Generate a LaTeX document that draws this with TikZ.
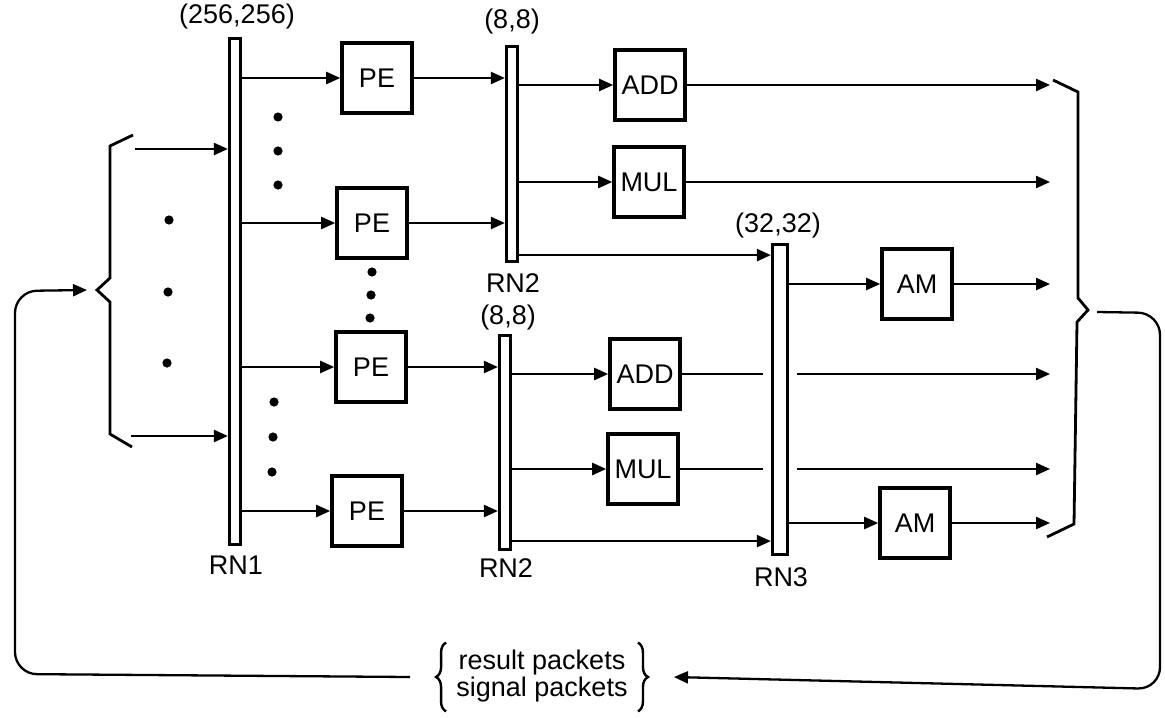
\documentclass[tikz,border=0pt]{standalone}
\usepackage{fontspec}
\setmainfont{Liberation Sans}
\usetikzlibrary{arrows.meta,decorations.pathreplacing}
\begin{document}
\begin{tikzpicture}[x=0.5pt,y=-0.5pt,
  font=\fontsize{13.5}{14}\selectfont,
  box/.style={draw, line width=1.8pt, minimum width=35pt, minimum height=35pt, inner sep=0pt},
  bar/.style={draw, line width=1.6pt, fill=white, inner sep=0pt, minimum width=5.5pt},
  wire/.style={line width=1.15pt},
  arr/.style={wire, -{Triangle[length=7pt,width=6pt]}},
  dot/.style={fill, circle, inner sep=0pt, minimum size=4.6pt},
  lbl/.style={inner sep=0pt},
  brace/.style={line width=1.4pt, line join=miter},
  cbrace/.style={line width=1.2pt, decorate, decoration={brace, amplitude=5pt}},
]
\useasboundingbox (0,0) rectangle (1165,717);

% bars
\node[bar, minimum height=253pt] (RN1) at (235,291.5) {};
\node[bar, minimum height=107.5pt] (RN2a) at (512,154) {};
\node[bar, minimum height=107pt] (RN2b) at (505,442.5) {};
\node[bar, minimum width=7.5pt, minimum height=155pt] (RN3) at (780,399.5) {};

% bar labels
\node[lbl] (t1) at (237,17) {(256,256)};
\node[lbl] (t2) at (512,22) {(8,8)};
\node[lbl] (t3) at (508,318) {(8,8)};
\node[lbl] (t4) at (778,226) {(32,32)};
\node[lbl] (b1) at (236,565) {RN1};
\node[lbl] (b2) at (513,283) {RN2};
\node[lbl] (b3) at (506,568) {RN2};
\node[lbl] (b4) at (781,577) {RN3};

% boxes
\node[box] (PE1) at (377,78) {PE};
\node[box] (PE2) at (372,223) {PE};
\node[box] (PE3) at (371,367) {PE};
\node[box] (PE4) at (367,511) {PE};
\node[box] (ADD1) at (650,85) {ADD};
\node[box] (MUL1) at (649,182) {MUL};
\node[box] (ADD2) at (645,374) {ADD};
\node[box] (MUL2) at (643,469) {MUL};
\node[box] (AM1) at (917,284) {AM};
\node[box] (AM2) at (915,523) {AM};

% dots
\node[dot] (d1) at (278,117) {};
\node[dot] (d2) at (278,151) {};
\node[dot] (d3) at (278,185) {};
\node[dot] (d4) at (372,272) {};
\node[dot] (d5) at (371,295) {};
\node[dot] (d6) at (370,318) {};
\node[dot] (d7) at (274,402) {};
\node[dot] (d8) at (273,437) {};
\node[dot] (d9) at (272,472) {};
\node[dot] (d10) at (169,220) {};
\node[dot] (d11) at (168,292) {};
\node[dot] (d12) at (167,363) {};

% inputs to RN1
\coordinate (i1) at (135,149);
\coordinate (i2) at (131,436);
\draw[arr] (i1) -- (RN1.west |- i1);
\draw[arr] (i2) -- (RN1.west |- i2);

% RN1 -> PE
\foreach \p in {PE1,PE2,PE3,PE4}
  \draw[arr] (RN1.east |- \p.west) -- (\p.west);

% PE -> RN2
\draw[arr] (PE1.east) -- (RN2a.west |- PE1.east);
\draw[arr] (PE2.east) -- (RN2a.west |- PE2.east);
\draw[arr] (PE3.east) -- (RN2b.west |- PE3.east);
\draw[arr] (PE4.east) -- (RN2b.west |- PE4.east);

% RN2 -> units
\draw[arr] (RN2a.east |- ADD1.west) -- (ADD1.west);
\draw[arr] (RN2a.east |- MUL1.west) -- (MUL1.west);
\draw[arr] (RN2b.east |- ADD2.west) -- (ADD2.west);
\draw[arr] (RN2b.east |- MUL2.west) -- (MUL2.west);
\coordinate (c1) at ([yshift=4pt]RN2a.south east);
\coordinate (c2) at ([yshift=5pt]RN2b.south east);
\draw[arr] (c1) -- (RN3.west |- c1);
\draw[arr] (c2) -- (RN3.west |- c2);

% RN3 -> AM
\draw[arr] (RN3.east |- AM1.west) -- (AM1.west);
\draw[arr] (RN3.east |- AM2.west) -- (AM2.west);

% outputs
\coordinate (R) at (1050,0);
\draw[arr] (ADD1.east) -- (R |- ADD1.east);
\draw[arr] (MUL1.east) -- (R |- MUL1.east);
\draw[arr] (AM1.east) -- (R |- AM1.east);
\draw[arr] (AM2.east) -- (R |- AM2.east);
\draw[wire] (ADD2.east) -- ([xshift=-4pt]RN3.west |- ADD2.east);
\draw[arr] ([xshift=4pt]RN3.east |- ADD2.east) -- (R |- ADD2.east);
\draw[wire] (MUL2.east) -- ([xshift=-4pt]RN3.west |- MUL2.east);
\draw[arr] ([xshift=4pt]RN3.east |- MUL2.east) -- (R |- MUL2.east);

% braces
\draw[brace] (133,135) -- (110,146) -- (110,278) -- (97,290) -- (110,302) -- (110,434) -- (132,447);
\draw[brace] (1053,80) -- (1078,92) -- (1078,298) -- (1088,310) -- (1077,322) -- (1074,524) -- (1047,537);

% result / signal packets
\node[lbl, inner xsep=5pt, minimum height=34pt] (res) at (542,677) {\renewcommand\arraystretch{0.9}\begin{tabular}{@{}c@{}}result packets\\ signal packets\end{tabular}};
\draw[cbrace] (res.south west) -- (res.north west);
\draw[cbrace] (res.north east) -- (res.south east);

% feedback loop
\coordinate (rs) at (1097,312);
\coordinate (lt) at (87,290);
\draw[arr, rounded corners=11pt] (rs) -- (1160,313) -- (1160,689) -- ([xshift=18pt]res.east);
\draw[arr, rounded corners=11pt] ([xshift=-18pt]res.west) -- (15,674) -- (15,291) -- (lt);
\end{tikzpicture}
\end{document}
